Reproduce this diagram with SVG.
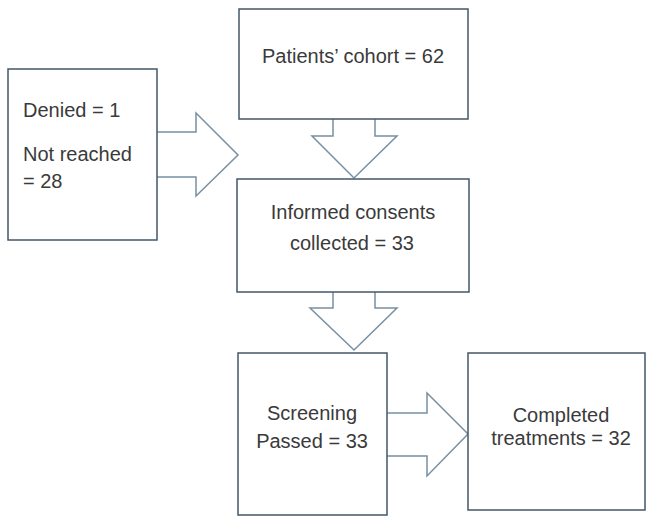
<svg xmlns="http://www.w3.org/2000/svg" width="647" height="517" viewBox="0 0 647 517">
<style>
.box{fill:#fff;stroke:#44576a;stroke-width:1.5}
.arr{fill:#fff;stroke:#7890a2;stroke-width:1.5;stroke-linejoin:miter}
text{font-family:"Liberation Sans",Arial,sans-serif;font-size:20px;fill:#3a3a3a}
.c{text-anchor:middle}
</style>
<rect width="647" height="517" fill="#fff"/>
<g id="connectors">
<path class="arr" d="M157,132 H196 V113 L238,155 L196,196 V177 H157"/>
<path class="arr" d="M333,119 V136 H312 L354,178 L397,136 H375 V119"/>
<path class="arr" d="M333,292 V308 H310 L354,350 L397,308 H375 V292"/>
<path class="arr" d="M387,413 H427 V393 L468,434 L427,476 V456 H387"/>
</g>
<g id="denied">
<rect class="box" x="8" y="69" width="149" height="171"/>
<text x="23" y="117">Denied = 1</text>
<text x="23" y="161">Not reached</text>
<text x="23" y="188">= 28</text>
</g>
<g id="cohort">
<rect class="box" x="239" y="9" width="229" height="110"/>
<text class="c" x="353" y="63">Patients’ cohort = 62</text>
</g>
<g id="consents">
<rect class="box" x="237" y="179" width="232" height="113"/>
<text class="c" x="353" y="219">Informed consents</text>
<text class="c" x="352" y="250">collected = 33</text>
</g>
<g id="screening">
<rect class="box" x="238" y="353" width="149" height="162"/>
<text class="c" x="312" y="420">Screening</text>
<text class="c" x="312" y="448">Passed = 33</text>
</g>
<g id="completed">
<rect class="box" x="468" y="353" width="177" height="157"/>
<text class="c" x="561" y="422">Completed</text>
<text class="c" x="561" y="445">treatments = 32</text>
</g>
</svg>
